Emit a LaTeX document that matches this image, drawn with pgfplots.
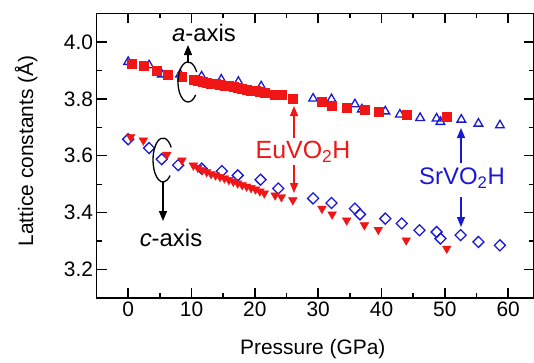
\documentclass[border=0pt]{standalone}
\usepackage{fontspec}
\setmainfont{Liberation Sans}
\usepackage{pgfplots}
\pgfplotsset{compat=1.18}
\usetikzlibrary{arrows.meta}
\definecolor{myred}{RGB}{240,22,22}
\definecolor{myblue}{RGB}{25,25,210}

\begin{document}
\begin{tikzpicture}[x=1bp,y=1bp]
\useasboundingbox (0,0) rectangle (534,362);
\begin{axis}[
  at={(96.5bp,64bp)}, anchor=south west,
  scale only axis, width=437bp, height=284.5bp,
  xmin=-5, xmax=64, ymin=3.1, ymax=4.1,
  xtick={0,10,20,30,40,50,60},
  minor xtick={5,15,25,35,45,55},
  ytick={3.2,3.4,3.6,3.8,4.0},
  minor ytick={3.3,3.5,3.7,3.9},
  tick align=inside,
  major tick length=10bp, minor tick length=5bp,
  axis line style={line width=1.6bp},
  every tick/.style={line width=1.4bp, black},
  /pgf/number format/assume math mode=true,
  ticklabel style={font=\fontsize{21}{21}\selectfont},
  yticklabel style={/pgf/number format/.cd, fixed, fixed zerofill, precision=1},
  xlabel={Pressure (GPa)},
  ylabel={Lattice constants (Å)},
  xlabel style={font=\fontsize{21}{21}\selectfont, at={(axis description cs:0.495,-0.179)}, anchor=center},
  ylabel style={font=\fontsize{21}{21}\selectfont, at={(axis description cs:-0.161,0.517)}, anchor=center, rotate=0},
  clip=false,
]
% SrVO2H a-axis
\addplot[only marks, mark=triangle, mark size=5bp, myblue, mark options={line width=1.3bp}] coordinates {
(0,3.930) (3.3,3.918) (5.3,3.886) (8.2,3.886) (11.6,3.879) (14.7,3.868) (17.4,3.860) (21.0,3.844)
(29.2,3.801) (32.1,3.799) (35.8,3.781) (36.9,3.763) (40.6,3.756) (42.9,3.745) (46.1,3.733)
(48.7,3.731) (49.3,3.719) (52.6,3.727) (55.3,3.713) (58.7,3.707)
};
% SrVO2H c-axis
\addplot[only marks, mark=square, mark size=3.9bp, myblue, mark options={rotate=45, line width=1.3bp}] coordinates {
(0,3.658) (3.3,3.627) (5.3,3.588) (7.9,3.567) (11.6,3.555) (14.8,3.546) (17.3,3.531) (20.9,3.516)
(23.7,3.485) (29.2,3.450) (32.1,3.434) (35.8,3.414) (36.6,3.394) (40.6,3.379) (43.2,3.362)
(46.0,3.338) (48.7,3.332) (49.3,3.309) (52.5,3.321) (55.3,3.297) (58.7,3.285)
};
% EuVO2H a-axis
\addplot[only marks, mark=square*, mark size=4.5bp, myred] coordinates {
(0.5,3.924) (2.4,3.916) (4.5,3.898) (6.3,3.886) (8.5,3.879)
(10.3,3.866) (11.0,3.864) (11.7,3.861) (12.4,3.858) (13.1,3.855) (13.8,3.853) (14.5,3.850)
(15.2,3.847) (15.9,3.845) (16.6,3.842) (17.3,3.839) (18.0,3.836) (18.7,3.833) (19.4,3.830)
(20.1,3.828) (20.8,3.825) (21.5,3.822)
(23.2,3.816) (24.2,3.813) (26.0,3.801) (30.6,3.789) (32.2,3.775) (34.5,3.768) (37.4,3.763)
(39.6,3.756) (43.9,3.745) (50.3,3.736)
};
% EuVO2H c-axis
\addplot[only marks, mark=triangle*, mark size=5bp, myred, mark options={rotate=180}] coordinates {
(0.4,3.666) (2.4,3.654) (6.1,3.604) (8.5,3.584)
(10.3,3.566) (11.0,3.558) (11.7,3.550) (12.4,3.543) (13.1,3.536) (13.8,3.531) (14.5,3.526)
(15.2,3.521) (15.9,3.515) (16.6,3.509) (17.3,3.503) (18.0,3.497) (18.7,3.492) (19.4,3.487)
(20.1,3.482) (20.8,3.475) (21.5,3.468)
(23.2,3.461) (24.2,3.455) (26.0,3.444) (30.6,3.414) (32.2,3.394) (34.5,3.373) (37.3,3.356)
(39.5,3.340) (43.9,3.303) (50.3,3.274)
};
\end{axis}
% annotations (picture coordinates, 1 unit = 1 px of the reference, origin bottom-left)
\begin{scope}[line width=1.3bp, >={Triangle[length=10bp,width=8bp]}]
% a-axis rotation symbol
\draw (188,280) ++(30:10 and 20) arc[start angle=30, end angle=320, x radius=10, y radius=20];
\draw[->] (188,300) -- (188,317);
\node[font=\fontsize{24}{24}\selectfont] at (204,329) {\textit{a}-axis};
% c-axis rotation symbol
\draw (163,202) ++(35:10 and 22) arc[start angle=35, end angle=315, x radius=10, y radius=22];
\draw[->] (163,180) -- (163,141);
\node[font=\fontsize{24}{24}\selectfont] at (171,124) {\textit{c}-axis};
% EuVO2H
\node[myred, font=\fontsize{25}{25}\selectfont] at (303,210) {EuVO\textsubscript{2}H};
\draw[->, myred] (294,224) -- (294,256);
\draw[->, myred] (294,197) -- (294,169);
% SrVO2H
\node[myblue, font=\fontsize{24}{24}\selectfont] at (462,184) {SrVO\textsubscript{2}H};
\draw[->, myblue] (461,199) -- (461,234);
\draw[->, myblue] (461,165) -- (461,135);
\end{scope}
\end{tikzpicture}
\end{document}
